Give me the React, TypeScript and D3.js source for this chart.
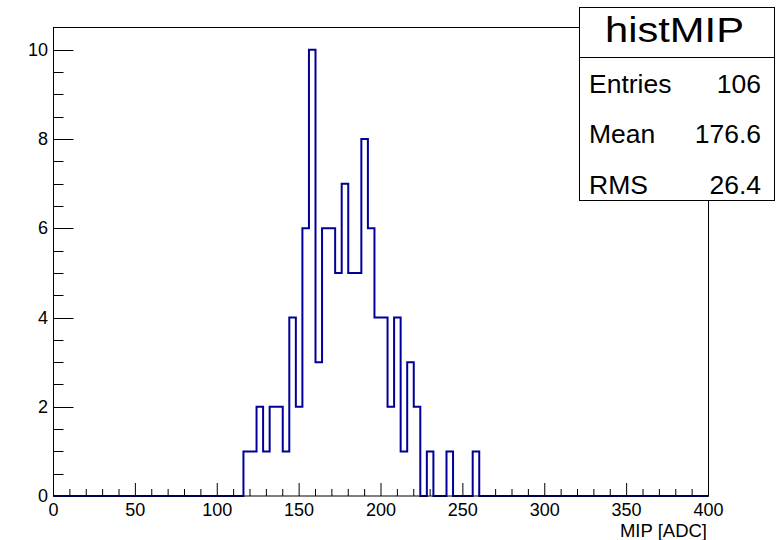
import React from 'react';
import * as d3 from 'd3';

// histogram contents (4 ADC wide bins, first filled bin starts at 116)
const binStart = 116;
const binWidth = 4;
const counts = [
  1, 1, 2, 1, 2, 2, 1, 4, 2, 6, 10, 3, 6, 6, 5, 7, 5, 5,
  8, 6, 4, 4, 2, 4, 1, 3, 2, 0, 1, 0, 0, 1, 0, 0, 0, 1,
];
const xTicks = [0, 50, 100, 150, 200, 250, 300, 350, 400];
const yTicks = [0, 2, 4, 6, 8, 10];
const statsTitle = 'histMIP';
const statsRows = [
  { label: 'Entries', value: '106' },
  { label: 'Mean', value: '176.6' },
  { label: 'RMS', value: '26.4' },
];

const W = 781;
const H = 540;
const font = '"Liberation Sans", Arial, sans-serif';

const App = () => {
  const left = 53.5, right = 708.5, top = 27.5, bottom = 496;

  const x = d3.scaleLinear().domain([0, 400]).range([left, right]);
  const y = d3.scaleLinear().domain([0, 10.5]).range([bottom, top]);

  const pts: [number, number][] = [[0, 0]];
  counts.forEach((c, i) => pts.push([binStart + i * binWidth, c]));
  pts.push([binStart + counts.length * binWidth, 0]);
  pts.push([400, 0]);

  const line = d3.line<[number, number]>()
    .x(d => x(d[0]))
    .y(d => y(d[1]))
    .curve(d3.curveStepAfter);

  const xMinor = d3.range(0, 401, 10);
  const yMinor = d3.range(0, 10.5, 0.5);

  const box = { x0: 579.5, x1: 774.5, y0: 7.5, y1: 200.5, div: 57.5 };

  return (
    <svg width={W} height={H} style={{ position: 'absolute', left: 0, top: 0 }}>
      <rect width={W} height={H} fill="#fff" />
      {/* ticks */}
      {xMinor.map(t => (
        <line key={'xt' + t} x1={x(t)} x2={x(t)} y1={bottom}
          y2={bottom - (t % 50 === 0 ? 13 : 7)} stroke="#000" strokeWidth={1} />
      ))}
      {yMinor.map(t => (
        <line key={'yt' + t} x1={left} x2={left + (t % 2 === 0 ? 20 : 10)}
          y1={Math.round(y(t)) + 0.5} y2={Math.round(y(t)) + 0.5} stroke="#000" strokeWidth={1} />
      ))}
      {/* histogram */}
      <path d={line(pts) || ''} fill="none" stroke="#000099" strokeWidth={2} />
      {/* frame */}
      <rect x={left} y={top} width={right - left} height={bottom - top} fill="none" stroke="#000" strokeWidth={1} />
      {/* tick labels */}
      {xTicks.map(t => (
        <text key={'xl' + t} x={x(t)} y={516} textAnchor="middle" fontFamily={font} fontSize={18}>{t}</text>
      ))}
      {yTicks.map(t => (
        <text key={'yl' + t} x={48} y={y(t) + 6} textAnchor="end" fontFamily={font} fontSize={18}>{t}</text>
      ))}
      <text x={707} y={536.5} textAnchor="end" fontFamily={font} fontSize={18.5}>MIP [ADC]</text>
      {/* stats box */}
      <rect x={box.x0} y={box.y0} width={box.x1 - box.x0} height={box.y1 - box.y0} fill="#fff" stroke="#000" strokeWidth={1} />
      <line x1={box.x0} x2={box.x1} y1={box.div} y2={box.div} stroke="#000" strokeWidth={1} />
      <text x={605} y={41.5} fontFamily={font} fontSize={35} textLength={139} lengthAdjust="spacingAndGlyphs">{statsTitle}</text>
      {statsRows.map((r, i) => (
        <g key={r.label}>
          <text x={589} y={92.5 + i * 50.5} fontFamily={font} fontSize={26.5}>{r.label}</text>
          <text x={761} y={92.5 + i * 50.5} textAnchor="end" fontFamily={font} fontSize={26.5}>{r.value}</text>
        </g>
      ))}
    </svg>
  );
};

export default App;
